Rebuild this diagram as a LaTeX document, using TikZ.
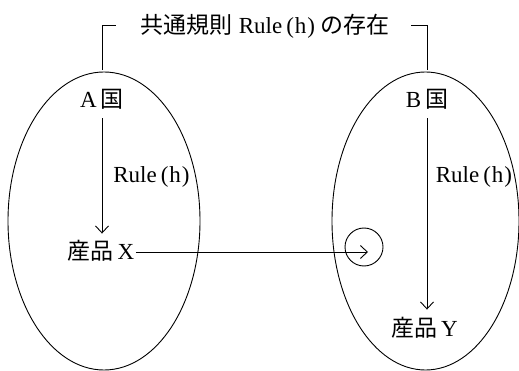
\documentclass[tikz,border=0pt]{standalone}
\usepackage{fontspec}
\setmainfont{Liberation Serif}
\newfontfamily\jp{Noto Sans CJK JP}
\newcommand{\J}[1]{{\jp #1}}
\newcommand{\ruleh}{Rule\hspace{4pt}(\hspace{1pt}h\hspace{1pt})}
\usetikzlibrary{arrows.meta}
\begin{document}
\begin{tikzpicture}[x=1pt,y=-1pt, line width=0.9pt,
  arr/.style={-{Straight Barb[length=7pt,width=13pt]}},
  lbl/.style={inner xsep=1pt, inner ysep=8pt, text height=18pt, text depth=2pt, font=\fontsize{23}{27}\selectfont},
  rl/.style={inner sep=0pt, font=\fontsize{23}{27}\selectfont}]
\useasboundingbox (0,0) rectangle (519,371);
% ellipses
\draw (104,221) ellipse [x radius=96, y radius=149];
\draw (425.5,221) ellipse [x radius=93.5, y radius=149];
% title and bracket
\node[rl] (T) at (265,26) {\J{共通規則}\hspace{6pt}\ruleh\hspace{5pt}\J{の存在}};
\coordinate (bl0) at (102,70);
\coordinate (bl1) at (116,25);
\coordinate (br0) at (427,70);
\coordinate (br1) at (411,25);
\draw (bl0) |- (bl1);
\draw (br0) |- (br1);
% country A
\node[lbl] (A) at (102,100) {A\hspace{4pt}\J{国}};
\node[lbl] (X) at (101,252) {\J{産品}\hspace{4pt}X};
\draw[arr] (A.south) -- (A.south |- X.north);
\node[rl] (RA) at (151.5,177) {\ruleh};
% country B
\node[lbl] (B) at (427,100) {B\hspace{4pt}\J{国}};
\node[lbl] (Y) at (424.5,328) {\J{産品}\hspace{4pt}Y};
\draw[arr] (B.south) -- (B.south |- Y.north);
\node[rl] (RB) at (474,177) {\ruleh};
% export
\node[draw, circle, minimum size=38pt, inner sep=0pt] (C) at (364,247) {};
\coordinate (Xt) at (368,252);
\draw[arr] (X.east) -- (Xt);
\end{tikzpicture}
\end{document}
